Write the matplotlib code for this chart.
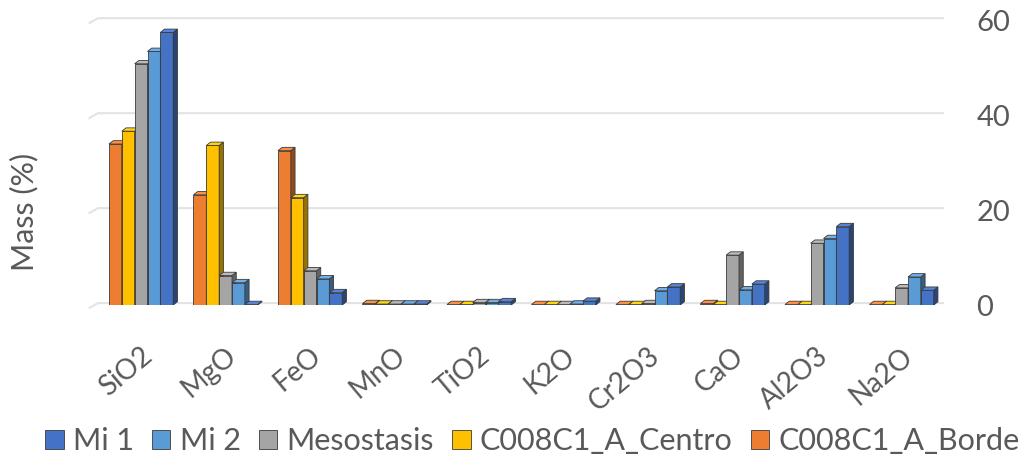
import matplotlib
matplotlib.use("Agg")
import matplotlib.pyplot as plt
from matplotlib.patches import Polygon
from matplotlib.colors import to_rgb
import numpy as np

plt.rcParams['font.family'] = ['Lato', 'DejaVu Sans']

categories = ["SiO2", "MgO", "FeO", "MnO", "TiO2", "K2O", "Cr2O3", "CaO", "Al2O3", "Na2O"]
borde = [33.9, 23.2, 32.5, 0.3, 0.1, 0.1, 0.1, 0.3, 0.1, 0.1]
centro = [36.6, 33.6, 22.6, 0.2, 0.1, 0.1, 0.1, 0.1, 0.1, 0.1]
mesostasis = [50.8, 6.2, 7.2, 0.2, 0.5, 0.1, 0.3, 10.5, 13.0, 3.6]
mi2 = [53.4, 4.7, 5.5, 0.2, 0.5, 0.2, 3.0, 3.2, 14.0, 5.9]
mi1 = [57.4, 0.1, 2.6, 0.2, 0.7, 0.8, 3.8, 4.4, 16.5, 3.1]

series_names = ["C008C1_A_Borde", "C008C1_A_Centro", "Mesostasis", "Mi 2", "Mi 1"]
series_values = [borde, centro, mesostasis, mi2, mi1]
series_colors = ["#ED7D31", "#FFC000", "#A5A5A5", "#5B9BD5", "#4472C4"]
yticks = [0, 20, 40, 60]

TXT = "#595959"
fig = plt.figure(figsize=(10.24, 4.62), dpi=100)
ax = fig.add_axes([98/1024, (462-305)/462, (943-98)/1024, (305-12)/462])
ax.set_xlim(-0.5, len(categories) - 0.5)
ax.set_ylim(0, 61.7)

w = 0.152
dx = 0.05
dy = 0.7
x = np.arange(len(categories))
handles = {}
for i, (name, vals, col) in enumerate(zip(series_names, series_values, series_colors)):
    pos = x - 2.5 * w + i * w + w / 2 + 0.01
    bars = ax.bar(pos, vals, width=w, color=col, edgecolor="#3a3a3a", linewidth=0.6, zorder=3 + i)
    handles[name] = bars
    rgb = np.array(to_rgb(col))
    side = tuple(rgb * 0.6)
    top = tuple(np.clip(rgb * 1.05 + 0.05, 0, 1))
    for p, v in zip(pos, vals):
        x0 = p - w / 2
        x1 = p + w / 2
        ax.add_patch(Polygon([(x1, 0), (x1 + dx, dy), (x1 + dx, v + dy), (x1, v)],
                             closed=True, facecolor=side, edgecolor="#3a3a3a", linewidth=0.6, zorder=3 + i))
        ax.add_patch(Polygon([(x0, v), (x0 + dx, v + dy), (x1 + dx, v + dy), (x1, v)],
                             closed=True, facecolor=top, edgecolor="#3a3a3a", linewidth=0.6, zorder=3 + i))

for yt in yticks:
    ax.plot([-0.6, -0.5, len(categories) - 0.5], [yt - 0.6, yt + 0.4, yt + 0.4],
            color="#e3e3e3", linewidth=1.5, zorder=0, clip_on=False)

for s in ax.spines.values():
    s.set_visible(False)
ax.yaxis.tick_right()
ax.set_yticks(yticks)
ax.tick_params(axis='y', length=0, labelsize=21, labelcolor=TXT, pad=24)
ax.set_xticks(x)
ax.set_xticklabels(categories, rotation=40, ha='right', rotation_mode='anchor', fontsize=20, color=TXT)
ax.tick_params(axis='x', length=0, pad=27)
ax.grid(False)

fig.text(24/1024, (462-212)/462, "Mass (%)", rotation=90, va='center', ha='center', fontsize=22, color=TXT)

order = ["Mi 1", "Mi 2", "Mesostasis", "C008C1_A_Centro", "C008C1_A_Borde"]
fig.legend([handles[n] for n in order], order, loc='center', bbox_to_anchor=(0.52, (462-441)/462),
           ncol=5, frameon=False, fontsize=22, labelcolor=TXT, handlelength=0.6, handleheight=0.6,
           handletextpad=0.3, columnspacing=0.6)

fig.savefig("out.png", dpi=100, facecolor="white")
